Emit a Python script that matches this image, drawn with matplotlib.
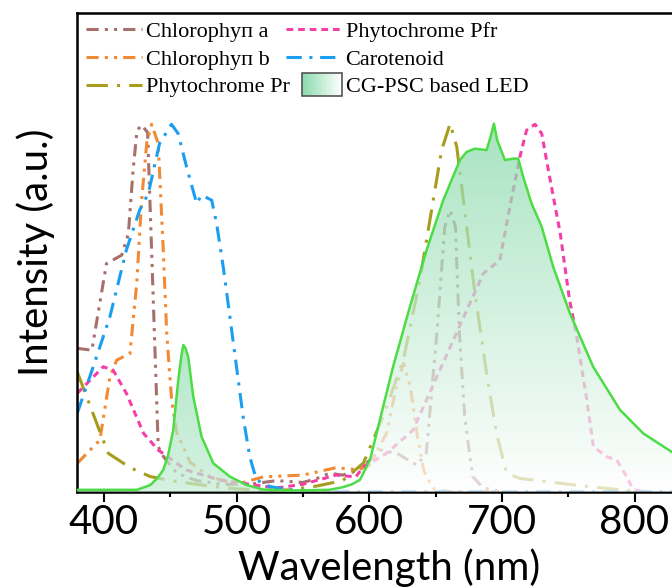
import numpy as np
import matplotlib
matplotlib.use("Agg")
import matplotlib.pyplot as plt
from matplotlib.patches import Polygon, Rectangle
from matplotlib.legend_handler import HandlerBase
from matplotlib.ticker import MultipleLocator

# absorption spectra (normalised)
chla_wl = [380, 391, 402, 413.5, 418.5, 422, 425, 428.5, 433, 437, 441, 445, 455, 470, 490,
           510, 530, 550, 560, 570, 580, 593, 608, 621, 636, 643, 651, 657, 661, 665, 668,
           672, 678, 686, 700]
chla_int = [0.389, 0.384, 0.619, 0.642, 0.70, 0.87, 0.98, 0.995, 0.975, 0.55, 0.122, 0.095,
            0.05, 0.03, 0.02, 0.02, 0.03, 0.025, 0.035, 0.05, 0.045, 0.059, 0.113, 0.104,
            0.072, 0.104, 0.43, 0.719, 0.764, 0.719, 0.43, 0.203, 0.041, 0.01, 0.0]

chlb_wl = [380, 397, 404.6, 409.7, 419.7, 424.8, 428.5, 432.3, 436, 441, 444.8, 447.4, 451.1,
           455, 465, 480, 500, 520, 550, 575, 590, 600, 613, 621, 626, 631, 636, 641, 648,
           660, 700]
chlb_int = [0.077, 0.14, 0.312, 0.357, 0.375, 0.565, 0.791, 0.945, 0.997, 0.945, 0.656, 0.43,
            0.249, 0.16, 0.08, 0.04, 0.02, 0.04, 0.045, 0.065, 0.06, 0.07, 0.158, 0.294,
            0.348, 0.285, 0.158, 0.059, 0.009, 0.0, 0.0]

pr_wl = [380, 397, 403.4, 420, 435, 450, 470, 492, 520, 540, 560, 580, 595.7, 610, 625.7,
         638.2, 647, 654.6, 661, 666, 671, 679.7, 688.5, 696, 703.6, 713.6, 743.8, 770, 790, 810]
pr_int = [0.325, 0.163, 0.104, 0.065, 0.041, 0.03, 0.02, 0.01, 0.003, 0.005, 0.015, 0.03,
          0.078, 0.2, 0.357, 0.574, 0.764, 0.927, 0.999, 0.936, 0.791, 0.538, 0.321, 0.158,
          0.05, 0.036, 0.023, 0.012, 0.005, 0.0]

pfr_wl = [380, 399.6, 407, 417, 430, 441, 462, 487, 510, 530, 550, 575, 590, 595.5, 613, 633,
          651, 668, 686, 698.5, 705, 713.6, 718.6, 725, 730, 736, 744, 751, 756, 764, 769, 779,
          786.5, 794, 799, 810]
pfr_int = [0.267, 0.339, 0.33, 0.267, 0.158, 0.113, 0.059, 0.032, 0.02, 0.01, 0.02, 0.045,
           0.04, 0.068, 0.104, 0.167, 0.312, 0.448, 0.592, 0.628, 0.755, 0.909, 0.981, 0.997,
           0.972, 0.854, 0.701, 0.52, 0.43, 0.249, 0.122, 0.095, 0.086, 0.041, 0.005, 0.0]

car_wl = [380, 392, 404.6, 417, 427, 433.5, 442, 451, 456, 462.4, 470, 473.7, 481.3, 485, 490,
          495, 500, 505, 510, 515, 525, 540, 560, 600, 700, 850]
car_int = [0.213, 0.339, 0.475, 0.656, 0.764, 0.809, 0.945, 0.997, 0.972, 0.881, 0.782, 0.805,
           0.791, 0.728, 0.61, 0.475, 0.339, 0.203, 0.095, 0.032, 0.014, 0.005, 0.002, 0.0,
           0.0, 0.0]

# LED emission
led_wl = [380, 400, 425, 435, 440, 444.8, 448.5, 452.3, 456.1, 458.5, 459.9, 461.5, 463.6,
          467.4, 473.7, 482.5, 495, 507.6, 520, 540, 570, 580, 587, 593, 600.6, 608, 618,
          630.7, 643.3, 655.8, 668.4, 673.4, 679.7, 688.5, 691.5, 694, 696.5, 702.3, 708.6,
          712.3, 716.1, 722.4, 730, 738.7, 751.3, 768.8, 789, 806.6, 828, 850]
led_int = [0.005, 0.005, 0.005, 0.018, 0.035, 0.059, 0.1, 0.167, 0.303, 0.37, 0.398, 0.39,
           0.366, 0.258, 0.149, 0.077, 0.041, 0.018, 0.006, 0.003, 0.005, 0.012, 0.02, 0.032,
           0.086, 0.194, 0.339, 0.502, 0.656, 0.791, 0.9, 0.922, 0.931, 0.927, 0.963, 0.999,
           0.954, 0.9, 0.904, 0.904, 0.854, 0.782, 0.719, 0.61, 0.484, 0.339, 0.222, 0.158,
           0.108, 0.07]

labels = ["Chlorophyп a", "Chlorophyп b", "Phytochrome Pr", "Phytochrome Pfr", "Carotenoid",
          "CG-PSC based LED"]
GREEN = np.array([0.55, 0.86, 0.68])

fig = plt.figure(figsize=(6.72, 5.87), dpi=100)
ax = fig.add_axes([0.115, 0.1624, 0.928, 0.816])

lw = 2.2
l1, = ax.plot(chla_wl, chla_int, color="#a8706a", lw=lw, ls=(0, (4, 2, 1, 2, 1, 2)), zorder=2)
l2, = ax.plot(chlb_wl, chlb_int, color="#f28a35", lw=lw, ls=(0, (4, 2, 1, 2, 1, 2)), zorder=2)
l3, = ax.plot(pr_wl, pr_int, color="#a89c1e", lw=lw, ls=(0, (7, 3, 1, 3)), zorder=2)
l4, = ax.plot(pfr_wl, pfr_int, color="#f43fa8", lw=lw, ls=(0, (2.2, 1.6)), zorder=2)
l5, = ax.plot(car_wl, car_int, color="#1a9ff0", lw=lw, ls=(0, (5, 2.5, 1, 2.5)), zorder=2)

# gradient fill of the LED spectrum, drawn over the absorption lines
xs = np.linspace(380, 850, 500)
ys = np.linspace(0, 1.3, 400)
X, Y = np.meshgrid(xs, ys)
t = np.where(X < 540, 0.5 + 0.4 * Y / 0.4, Y * 1.05)
t = np.clip(t, 0, 1)[..., None]
rgba = np.ones((len(ys), len(xs), 4))
rgba[..., :3] = (1 - t) + GREEN * t
rgba[..., 3] = 0.72
im = ax.imshow(rgba, extent=(380, 850, 0, 1.3), origin="lower", aspect="auto",
               zorder=3, interpolation="bilinear")
verts = np.column_stack([np.r_[led_wl, led_wl[::-1]], np.r_[led_int, np.zeros(len(led_int))]])
poly = Polygon(verts, closed=True, fc="none", ec="none")
ax.add_patch(poly)
im.set_clip_path(poly)
ax.plot(led_wl, led_int, color="#4cdc45", lw=1.8, zorder=4)

ax.set_xlim(380, 850)
ax.set_ylim(0, 1.3)
ax.set_yticks([])
ax.set_xticks([400, 500, 600, 700, 800])
ax.xaxis.set_minor_locator(MultipleLocator(50))
ax.tick_params(axis="x", which="major", length=7, width=1.5, pad=2, labelsize=29)
ax.tick_params(axis="x", which="minor", length=3.5, width=1.5)
for lab in ax.get_xticklabels():
    lab.set_fontfamily("Lato")
for s in ax.spines.values():
    s.set_linewidth(1.8)
ax.set_xlabel("Wavelength (nm)", fontsize=29, family="Lato", labelpad=5)
ax.set_ylabel("Intensity (a.u.)", fontsize=29, family="Lato", labelpad=16)


class GradientHandler(HandlerBase):
    def create_artists(self, legend, orig_handle, xdescent, ydescent, width, height,
                       fontsize, trans):
        arts = []
        n = 24
        h = height * 1.5
        y0 = -ydescent - (h - height) / 2
        x0 = -xdescent + width * 0.3
        w = width * 0.72
        for i in range(n):
            f = i / (n - 1)
            c = GREEN * (1 - f) + np.ones(3) * f
            arts.append(Rectangle((x0 + i * w / n, y0), w / n + 0.3, h, fc=c, ec="none",
                                  transform=trans))
        arts.append(Rectangle((x0, y0), w, h, fc="none", ec="#555555", lw=1.2,
                              transform=trans))
        return arts


led_handle = Rectangle((0, 0), 1, 1)
leg = ax.legend([l1, l2, l3, l4, l5, led_handle], labels, ncol=2, loc="upper left",
                bbox_to_anchor=(0.0, 1.0), frameon=False,
                prop={"family": "Liberation Serif", "size": 16},
                handlelength=2.5, handletextpad=0.2, columnspacing=-0.2,
                labelspacing=0.32, borderpad=0.4, borderaxespad=0.0,
                handler_map={Rectangle: GradientHandler()})

fig.savefig("out.png", dpi=100)
